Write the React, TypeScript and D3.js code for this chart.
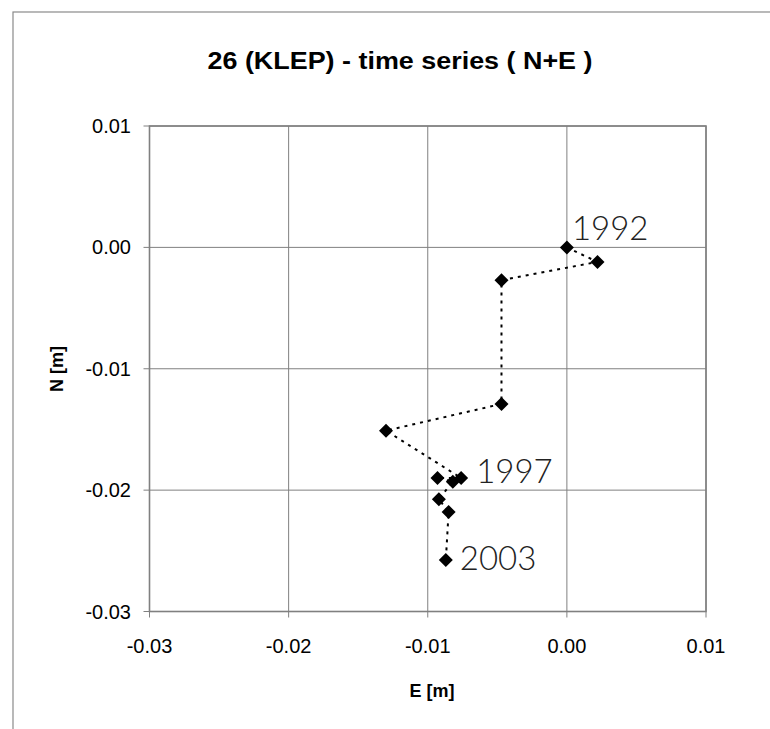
import React from "react";
import * as d3 from "d3";

const eValues = [0.0, 0.0022, -0.0047, -0.0047, -0.0130, -0.0076, -0.0093, -0.0082, -0.0092, -0.0085, -0.0087];
const nValues = [0.0, -0.0012, -0.0027, -0.0129, -0.0151, -0.0190, -0.0190, -0.0193, -0.02075, -0.0218, -0.02575];
const yearLabels = [
  { index: 0, text: "1992" },
  { index: 5, text: "1997" },
  { index: 10, text: "2003" },
];
const xTicks = [-0.03, -0.02, -0.01, 0.0, 0.01];
const yTicks = [0.01, 0.0, -0.01, -0.02, -0.03];
const title = "26 (KLEP) - time series ( N+E )";
const xTitle = "E [m]";
const yTitle = "N [m]";

export default function App() {
  const W = 770, H = 729;
  const left = 149.5, right = 706, top = 126, bottom = 611.5;
  const x = d3.scaleLinear().domain([-0.03, 0.01]).range([left, right]);
  const y = d3.scaleLinear().domain([-0.03, 0.01]).range([bottom, top]);
  const pts = eValues.map((e, i) => [x(e), y(nValues[i])] as [number, number]);
  const line = d3.line()(pts) || "";
  const fmt = (v: number) => d3.format(".2f")(v).replace("\u2212", "-");
  const labOff: Record<number, [number, number]> = { 0: [5, -7], 5: [15, 5], 10: [14, 10] };
  const diamond = (cx: number, cy: number) => {
    const r = 7;
    return `M${cx},${cy - r}L${cx + r},${cy}L${cx},${cy + r}L${cx - r},${cy}Z`;
  };
  const font = "Liberation Sans, Arial, sans-serif";
  return (
    <svg width={W} height={H} style={{ position: "absolute", left: 0, top: 0 }}>
      <rect x={0} y={0} width={W} height={H} fill="#fff" />
      <rect x={13} y={12} width={900} height={900} fill="none" stroke="#8a8a8a" strokeWidth={1.2} />
      <text x={400} y={69} textAnchor="middle" fontFamily={font} fontWeight="bold" fontSize={23}
        textLength={385} lengthAdjust="spacingAndGlyphs">{title}</text>
      {xTicks.map((t) => (
        <line key={"gx" + t} x1={x(t)} x2={x(t)} y1={top} y2={bottom + 6} stroke="#808080" strokeWidth={1} />
      ))}
      {yTicks.map((t) => (
        <line key={"gy" + t} x1={left - 6} x2={right} y1={y(t)} y2={y(t)} stroke="#808080" strokeWidth={1} />
      ))}
      <rect x={left} y={top} width={right - left} height={bottom - top} fill="none" stroke="#808080" strokeWidth={1.6} />
      {xTicks.map((t) => (
        <text key={"tx" + t} x={x(t)} y={653} textAnchor="middle" fontFamily={font} fontSize={20}>{fmt(t)}</text>
      ))}
      {yTicks.map((t) => (
        <text key={"ty" + t} x={131} y={y(t) + 7} textAnchor="end" fontFamily={font} fontSize={20}>{fmt(t)}</text>
      ))}
      <text x={432} y={697} textAnchor="middle" fontFamily={font} fontWeight="bold" fontSize={18}>{xTitle}</text>
      <text transform={`translate(63,369) rotate(-90)`} textAnchor="middle" fontFamily={font} fontWeight="bold" fontSize={18}>{yTitle}</text>
      <path d={line} fill="none" stroke="#000" strokeWidth={2} strokeDasharray="3,5" />
      {pts.map((p, i) => (
        <path key={"m" + i} d={diamond(p[0], p[1])} fill="#000" />
      ))}
      {yearLabels.map((l) => (
        <text key={l.text} x={pts[l.index][0] + labOff[l.index][0]} y={pts[l.index][1] + labOff[l.index][1]}
          fontFamily="Lato, 'Open Sans', sans-serif" fontWeight={300} fontSize={33} fill="#222">{l.text}</text>
      ))}
    </svg>
  );
}
